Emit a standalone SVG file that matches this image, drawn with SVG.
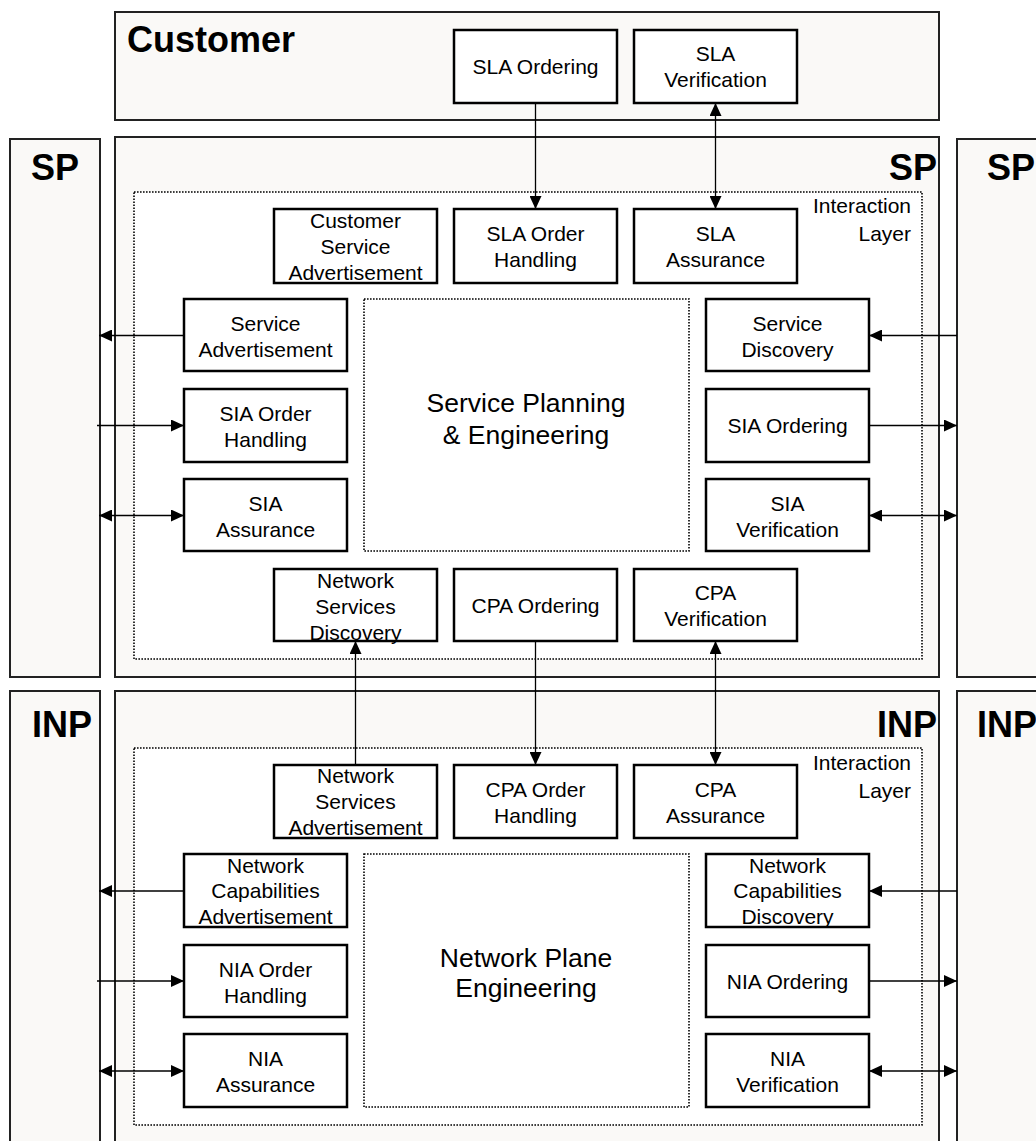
<svg xmlns="http://www.w3.org/2000/svg" width="1036" height="1141" viewBox="0 0 1036 1141">
<style>
  .cont { fill: #faf9f7; stroke: #222; stroke-width: 2; }
  .layer { fill: #ffffff; stroke: #000; stroke-width: 1.6; stroke-dasharray: 1.6 1.4; }
  .node rect { fill: #ffffff; stroke: #000; stroke-width: 2.5; }
  text { font-family: "Liberation Sans", Arial, sans-serif; fill: #000; }
  .t { font-size: 21px; text-anchor: middle; }
  .big { font-size: 26.5px; text-anchor: middle; }
  .hdr { font-size: 36px; font-weight: bold; }
  .il { font-size: 21px; text-anchor: end; }
  .conn line { stroke: #000; stroke-width: 1.3; fill: none; }
</style>
<defs>
  <marker id="ah" viewBox="0 0 13 12" refX="13" refY="6" markerWidth="13" markerHeight="12" markerUnits="userSpaceOnUse" orient="auto-start-reverse">
    <path d="M0,0 L13,6 L0,12 z" fill="#000"/>
  </marker>
</defs>

<!-- Containers -->
<g id="customer">
  <rect class="cont" x="115" y="12" width="824" height="108"/>
  <text class="hdr" x="127" y="52">Customer</text>
</g>
<g id="sp-left">
  <rect class="cont" x="10" y="139" width="90" height="538"/>
  <text class="hdr" x="31" y="180">SP</text>
</g>
<g id="sp-main">
  <rect class="cont" x="115" y="137" width="824" height="540"/>
  <text class="hdr" x="937" y="180" text-anchor="end">SP</text>
  <rect class="layer" x="134" y="192" width="788" height="467"/>
  <text class="il" x="911" y="213">Interaction</text>
  <text class="il" x="911" y="241">Layer</text>
</g>
<g id="sp-right">
  <rect class="cont" x="957" y="139" width="100" height="538"/>
  <text class="hdr" x="987" y="180">SP</text>
</g>
<g id="inp-left">
  <rect class="cont" x="10" y="691" width="90" height="470"/>
  <text class="hdr" x="32" y="737">INP</text>
</g>
<g id="inp-main">
  <rect class="cont" x="115" y="691" width="824" height="470"/>
  <text class="hdr" x="937" y="737" text-anchor="end">INP</text>
  <rect class="layer" x="134" y="748" width="788" height="377"/>
  <text class="il" x="911" y="770">Interaction</text>
  <text class="il" x="911" y="798">Layer</text>
</g>
<g id="inp-right">
  <rect class="cont" x="957" y="691" width="100" height="470"/>
  <text class="hdr" x="977" y="737">INP</text>
</g>

<!-- Center blocks -->
<g id="service-planning">
  <rect class="layer" x="364" y="299" width="325" height="252"/>
  <text class="big" x="526" y="412">Service Planning</text>
  <text class="big" x="526" y="444">&amp; Engineering</text>
</g>
<g id="network-plane">
  <rect class="layer" x="364" y="854" width="325" height="253"/>
  <text class="big" x="526" y="967">Network Plane</text>
  <text class="big" x="526" y="997">Engineering</text>
</g>

<!-- Customer nodes -->
<g id="sla-ordering" class="node"><rect x="454" y="30" width="163" height="73"/><text class="t" x="535.5" y="74">SLA Ordering</text></g>
<g id="sla-verification" class="node"><rect x="634" y="30" width="163" height="73"/><text class="t" x="715.5" y="61">SLA</text><text class="t" x="715.5" y="87">Verification</text></g>

<!-- SP nodes -->
<g id="customer-service-advertisement" class="node"><rect x="274" y="209" width="163" height="74"/><text class="t" x="355.5" y="228">Customer</text><text class="t" x="355.5" y="254">Service</text><text class="t" x="355.5" y="280">Advertisement</text></g>
<g id="sla-order-handling" class="node"><rect x="454" y="209" width="163" height="74"/><text class="t" x="535.5" y="241">SLA Order</text><text class="t" x="535.5" y="267">Handling</text></g>
<g id="sla-assurance" class="node"><rect x="634" y="209" width="163" height="74"/><text class="t" x="715.5" y="241">SLA</text><text class="t" x="715.5" y="267">Assurance</text></g>

<g id="service-advertisement" class="node"><rect x="184" y="299" width="163" height="72"/><text class="t" x="265.5" y="331">Service</text><text class="t" x="265.5" y="357">Advertisement</text></g>
<g id="sia-order-handling" class="node"><rect x="184" y="389" width="163" height="73"/><text class="t" x="265.5" y="421">SIA Order</text><text class="t" x="265.5" y="447">Handling</text></g>
<g id="sia-assurance" class="node"><rect x="184" y="479" width="163" height="72"/><text class="t" x="265.5" y="511">SIA</text><text class="t" x="265.5" y="537">Assurance</text></g>

<g id="service-discovery" class="node"><rect x="706" y="299" width="163" height="72"/><text class="t" x="787.5" y="331">Service</text><text class="t" x="787.5" y="357">Discovery</text></g>
<g id="sia-ordering" class="node"><rect x="706" y="389" width="163" height="73"/><text class="t" x="787.5" y="433">SIA Ordering</text></g>
<g id="sia-verification" class="node"><rect x="706" y="479" width="163" height="72"/><text class="t" x="787.5" y="511">SIA</text><text class="t" x="787.5" y="537">Verification</text></g>

<g id="network-services-discovery" class="node"><rect x="274" y="569" width="163" height="72"/><text class="t" x="355.5" y="588">Network</text><text class="t" x="355.5" y="614">Services</text><text class="t" x="355.5" y="640">Discovery</text></g>
<g id="cpa-ordering" class="node"><rect x="454" y="569" width="163" height="72"/><text class="t" x="535.5" y="613">CPA Ordering</text></g>
<g id="cpa-verification" class="node"><rect x="634" y="569" width="163" height="72"/><text class="t" x="715.5" y="600">CPA</text><text class="t" x="715.5" y="626">Verification</text></g>

<!-- INP nodes -->
<g id="network-services-advertisement" class="node"><rect x="274" y="765" width="163" height="73"/><text class="t" x="355.5" y="783">Network</text><text class="t" x="355.5" y="809">Services</text><text class="t" x="355.5" y="835">Advertisement</text></g>
<g id="cpa-order-handling" class="node"><rect x="454" y="765" width="163" height="73"/><text class="t" x="535.5" y="797">CPA Order</text><text class="t" x="535.5" y="823">Handling</text></g>
<g id="cpa-assurance" class="node"><rect x="634" y="765" width="163" height="73"/><text class="t" x="715.5" y="797">CPA</text><text class="t" x="715.5" y="823">Assurance</text></g>

<g id="network-capabilities-advertisement" class="node"><rect x="184" y="854" width="163" height="73"/><text class="t" x="265.5" y="873">Network</text><text class="t" x="265.5" y="898">Capabilities</text><text class="t" x="265.5" y="924">Advertisement</text></g>
<g id="nia-order-handling" class="node"><rect x="184" y="945" width="163" height="72"/><text class="t" x="265.5" y="977">NIA Order</text><text class="t" x="265.5" y="1003">Handling</text></g>
<g id="nia-assurance" class="node"><rect x="184" y="1034" width="163" height="73"/><text class="t" x="265.5" y="1066">NIA</text><text class="t" x="265.5" y="1092">Assurance</text></g>

<g id="network-capabilities-discovery" class="node"><rect x="706" y="854" width="163" height="73"/><text class="t" x="787.5" y="873">Network</text><text class="t" x="787.5" y="898">Capabilities</text><text class="t" x="787.5" y="924">Discovery</text></g>
<g id="nia-ordering" class="node"><rect x="706" y="945" width="163" height="72"/><text class="t" x="787.5" y="989">NIA Ordering</text></g>
<g id="nia-verification" class="node"><rect x="706" y="1034" width="163" height="73"/><text class="t" x="787.5" y="1066">NIA</text><text class="t" x="787.5" y="1092">Verification</text></g>

<!-- Connectors -->
<g id="connectors" class="conn">
  <line x1="535.5" y1="103" x2="535.5" y2="209" marker-end="url(#ah)"/>
  <line x1="715.5" y1="103" x2="715.5" y2="209" marker-start="url(#ah)" marker-end="url(#ah)"/>

  <line x1="184" y1="335.5" x2="99" y2="335.5" marker-end="url(#ah)"/>
  <line x1="97" y1="425.5" x2="184" y2="425.5" marker-end="url(#ah)"/>
  <line x1="99" y1="515.5" x2="184" y2="515.5" marker-start="url(#ah)" marker-end="url(#ah)"/>

  <line x1="957" y1="335.5" x2="869" y2="335.5" marker-end="url(#ah)"/>
  <line x1="869" y1="425.5" x2="957" y2="425.5" marker-end="url(#ah)"/>
  <line x1="869" y1="515.5" x2="957" y2="515.5" marker-start="url(#ah)" marker-end="url(#ah)"/>

  <line x1="355.5" y1="765" x2="355.5" y2="641" marker-end="url(#ah)"/>
  <line x1="535.5" y1="641" x2="535.5" y2="765" marker-end="url(#ah)"/>
  <line x1="715.5" y1="641" x2="715.5" y2="765" marker-start="url(#ah)" marker-end="url(#ah)"/>

  <line x1="184" y1="891" x2="99" y2="891" marker-end="url(#ah)"/>
  <line x1="97" y1="981" x2="184" y2="981" marker-end="url(#ah)"/>
  <line x1="99" y1="1071" x2="184" y2="1071" marker-start="url(#ah)" marker-end="url(#ah)"/>

  <line x1="957" y1="891" x2="869" y2="891" marker-end="url(#ah)"/>
  <line x1="869" y1="981" x2="957" y2="981" marker-end="url(#ah)"/>
  <line x1="869" y1="1071" x2="957" y2="1071" marker-start="url(#ah)" marker-end="url(#ah)"/>
</g>
</svg>
